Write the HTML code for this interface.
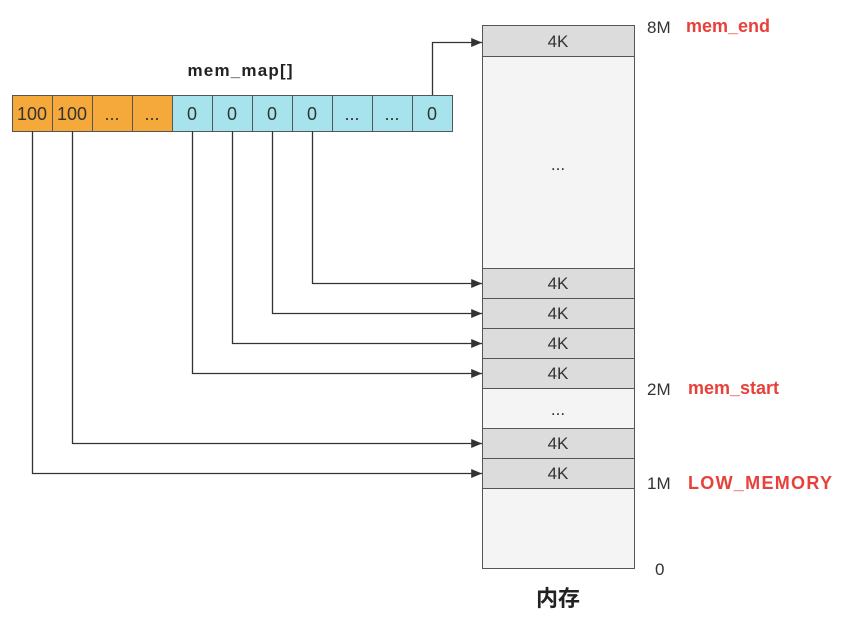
<!DOCTYPE html><html><head><meta charset="utf-8"><style>body{margin:0;background:#fff}</style></head><body>
<svg width="844" height="619" xmlns="http://www.w3.org/2000/svg" font-family="Liberation Sans, sans-serif">
<defs><marker id="a" viewBox="0 0 12 10" refX="12" refY="5" markerWidth="13" markerHeight="9" markerUnits="userSpaceOnUse" orient="auto"><path d="M0,0L12,5L0,10z" fill="#333"/></marker></defs>
<rect x="482.5" y="25.5" width="152" height="543" fill="#f4f4f4" stroke="#555"/>
<g fill="#dcdcdc" stroke="#555">
<rect x="482.5" y="25.5" width="152" height="31"/>
<rect x="482.5" y="268.5" width="152" height="30"/>
<rect x="482.5" y="298.5" width="152" height="30"/>
<rect x="482.5" y="328.5" width="152" height="30"/>
<rect x="482.5" y="358.5" width="152" height="30"/>
<rect x="482.5" y="428.5" width="152" height="30"/>
<rect x="482.5" y="458.5" width="152" height="30"/>
</g>
<g font-size="17" fill="#333" text-anchor="middle">
<text x="558" y="47">4K</text><text x="558" y="289">4K</text><text x="558" y="319">4K</text><text x="558" y="349">4K</text><text x="558" y="379">4K</text><text x="558" y="449">4K</text><text x="558" y="479">4K</text>
<text x="558" y="170">...</text><text x="558" y="415">...</text>
</g>
<g font-size="17" fill="#333"><text x="647" y="33">8M</text><text x="647" y="395">2M</text><text x="647" y="489">1M</text><text x="655" y="575">0</text></g>
<g font-size="18" fill="#e8403a" font-weight="bold"><text x="686" y="32">mem_end</text><text x="688" y="394">mem_start</text><text x="688" y="489" textLength="144">LOW_MEMORY</text></g>
<text x="558" y="606" font-size="22" font-weight="bold" fill="#222" text-anchor="middle" font-family="Liberation Sans, Noto Sans CJK SC, sans-serif">内存</text>
<text x="240" y="76" font-size="17" fill="#222" text-anchor="middle" font-weight="bold" textLength="105">mem_map[]</text>
<g stroke="#555"><rect x="12.5" y="95.5" width="160" height="36" fill="#f5a93a"/><rect x="172.5" y="95.5" width="280" height="36" fill="#a6e3ec"/>
<path d="M52.5 95v36M92.5 95v36M132.5 95v36M212.5 95v36M252.5 95v36M292.5 95v36M332.5 95v36M372.5 95v36M412.5 95v36"/></g>
<g font-size="18" fill="#333" text-anchor="middle">
<text x="32" y="120">100</text><text x="72" y="120">100</text><text x="112" y="120">...</text><text x="152" y="120">...</text>
<text x="192" y="120">0</text><text x="232" y="120">0</text><text x="272" y="120">0</text><text x="312" y="120">0</text><text x="352" y="120">...</text><text x="392" y="120">...</text><text x="432" y="120">0</text></g>
<g stroke="#333" fill="none" stroke-width="1.3" marker-end="url(#a)">
<path d="M432.5 95V42.5H482"/>
<path d="M312.5 131V283.5H482"/><path d="M272.5 131V313.5H482"/><path d="M232.5 131V343.5H482"/><path d="M192.5 131V373.5H482"/>
<path d="M72.5 131V443.5H482"/><path d="M32.5 131V473.5H482"/>
</g>
</svg></body></html>
